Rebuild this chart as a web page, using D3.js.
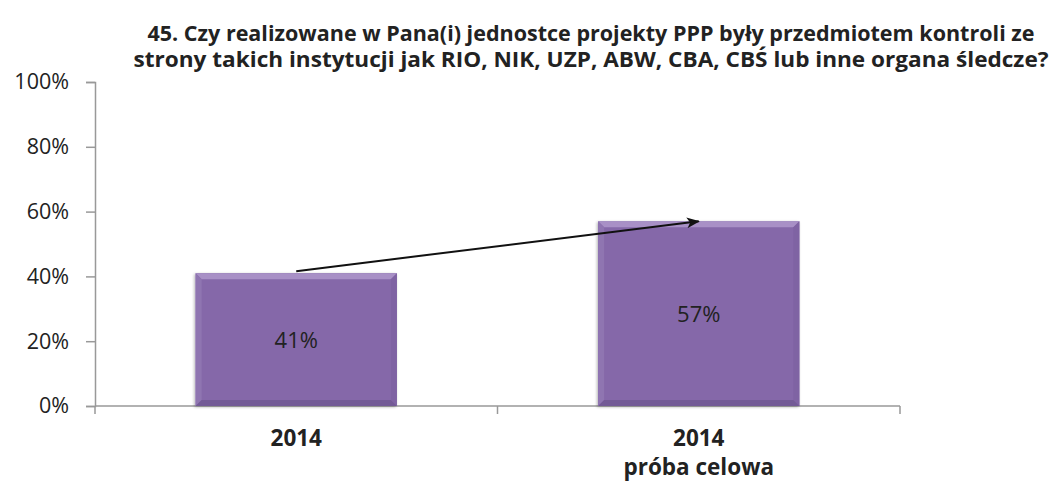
<!DOCTYPE html>
<html>
<head>
<meta charset="utf-8">
<script src="https://cdn.jsdelivr.net/npm/d3@7"></script>
<style>
body { margin: 0; background: #fff; }
text { font-family: "Open Sans", "DejaVu Sans", sans-serif; }
</style>
</head>
<body>
<div id="chart"></div>
<script>
var categories = [["2014"], ["2014", "próba celowa"]]
var values = [0.41, 0.57]
var yTicks = [0, 0.2, 0.4, 0.6, 0.8, 1]
var titleLines = [
	"45. Czy realizowane w Pana(i) jednostce projekty PPP były przedmiotem kontroli ze",
	"strony takich instytucji jak RIO,  NIK, UZP, ABW, CBA, CBŚ lub inne organa śledcze?"
]

var W = 1053, H = 482
var mLeft = 95, mRight = 900, mTop = 82, mBottom = 406

var svg = d3.select("#chart").append("svg")
	.attr("width", W).attr("height", H)

// title
svg.append("g").selectAll("text")
	.data(titleLines)
	.enter().append("text")
	.attr("x", 591)
	.attr("y", function(d, i) { return 41 + i * 26 })
	.attr("text-anchor", "middle")
	.attr("font-size", 21)
	.attr("font-weight", "bold")
	.attr("fill", "#222")
	.attr("textLength", function(d, i) { return i == 0 ? 887 : 915 })
	.attr("lengthAdjust", "spacingAndGlyphs")
	.text(function(d) { return d })

var x = d3.scaleBand().domain(d3.range(values.length)).range([mLeft, mRight]).paddingInner(0.5).paddingOuter(0.25)
var y = d3.scaleLinear().domain([0, 1]).range([mBottom, mTop])

// y axis
var yAxis = svg.append("g")
	.attr("transform", "translate(" + mLeft + ",0)")
	.call(d3.axisLeft(y).tickValues(yTicks).tickFormat(d3.format(".0%")).tickSizeOuter(0).tickSize(9).tickPadding(17))
yAxis.select(".domain").attr("stroke", "#999").attr("stroke-width", 1.5)
yAxis.selectAll(".tick line").attr("stroke", "#999").attr("stroke-width", 1.5)
yAxis.selectAll(".tick text").attr("font-size", 21.5).attr("fill", "#222").attr("font-family", "Open Sans, sans-serif")

// x axis line + ticks
var gx = svg.append("g")
gx.append("line").attr("x1", mLeft).attr("x2", mRight).attr("y1", mBottom).attr("y2", mBottom)
	.attr("stroke", "#999").attr("stroke-width", 1.5)
var bounds = [mLeft, (mLeft + mRight) / 2, mRight]
gx.selectAll(".xt").data(bounds).enter().append("line")
	.attr("x1", function(d) { return d }).attr("x2", function(d) { return d })
	.attr("y1", mBottom).attr("y2", mBottom + 8)
	.attr("stroke", "#999").attr("stroke-width", 1.5)

// category labels
var cat = svg.append("g").selectAll("g").data(categories).enter().append("g")
cat.selectAll("text").data(function(d, i) { return d.map(function(t) { return {t: t, i: i} }) })
	.enter().append("text")
	.attr("x", function(d) { return x(d.i) + x.bandwidth() / 2 })
	.attr("y", function(d, j) { return 446 + j * 29 })
	.attr("text-anchor", "middle")
	.attr("font-size", 22.5)
	.attr("font-weight", "bold")
	.attr("fill", "#222")
	.text(function(d) { return d.t })

var defs = svg.append("defs")
var shadow = defs.append("filter").attr("id", "sh").attr("x", "-10%").attr("y", "-10%").attr("width", "120%").attr("height", "120%")
shadow.append("feGaussianBlur").attr("in", "SourceAlpha").attr("stdDeviation", 1.5)
shadow.append("feOffset").attr("dx", -1).attr("dy", 1).attr("result", "b")
shadow.append("feComponentTransfer").append("feFuncA").attr("type", "linear").attr("slope", 0.3)
var m = shadow.append("feMerge")
m.append("feMergeNode")
m.append("feMergeNode").attr("in", "SourceGraphic")

var bars = svg.append("g").selectAll("g").data(values).enter().append("g")
	.attr("filter", "url(#sh)")

var bev = 6
bars.append("rect")
	.attr("x", function(d, i) { return x(i) })
	.attr("y", function(d) { return y(d) })
	.attr("width", x.bandwidth())
	.attr("height", function(d) { return mBottom - y(d) })
	.attr("fill", "#8568a9")

// top bevel (light)
bars.append("polygon")
	.attr("points", function(d, i) {
		var x0 = x(i), x1 = x(i) + x.bandwidth(), y0 = y(d)
		return [[x0, y0], [x1, y0], [x1 - bev, y0 + bev], [x0 + bev, y0 + bev]].join(" ")
	})
	.attr("fill", "#a890c6")
// left bevel
bars.append("polygon")
	.attr("points", function(d, i) {
		var x0 = x(i), y0 = y(d)
		return [[x0, y0], [x0 + bev, y0 + bev], [x0 + bev, mBottom - bev], [x0, mBottom]].join(" ")
	})
	.attr("fill", "#8f74b1")
// right bevel
bars.append("polygon")
	.attr("points", function(d, i) {
		var x1 = x(i) + x.bandwidth(), y0 = y(d)
		return [[x1, y0], [x1 - bev, y0 + bev], [x1 - bev, mBottom - bev], [x1, mBottom]].join(" ")
	})
	.attr("fill", "#7f63a3")
// bottom bevel (dark)
bars.append("polygon")
	.attr("points", function(d, i) {
		var x0 = x(i), x1 = x(i) + x.bandwidth()
		return [[x0, mBottom], [x1, mBottom], [x1 - bev, mBottom - bev], [x0 + bev, mBottom - bev]].join(" ")
	})
	.attr("fill", "#735a96")

// value labels
svg.append("g").selectAll("text").data(values).enter().append("text")
	.attr("x", function(d, i) { return x(i) + x.bandwidth() / 2 })
	.attr("y", function(d) { return (y(d) + mBottom) / 2 + 8 })
	.attr("text-anchor", "middle")
	.attr("font-size", 22)
	.attr("fill", "#222")
	.text(function(d) { return d3.format(".0%")(d) })

// arrow between bar tops
defs.append("marker").attr("id", "arr")
	.attr("viewBox", "0 0 12 10").attr("refX", 11).attr("refY", 5)
	.attr("markerWidth", 13).attr("markerHeight", 11).attr("markerUnits", "userSpaceOnUse")
	.attr("orient", "auto")
	.append("path").attr("d", "M0,0 L12,5 L0,10 L3,5 Z").attr("fill", "#111")

svg.append("line")
	.attr("x1", x(0) + x.bandwidth() / 2).attr("y1", y(values[0]) - 2)
	.attr("x2", x(1) + x.bandwidth() / 2).attr("y2", y(values[1]))
	.attr("stroke", "#111").attr("stroke-width", 2)
	.attr("marker-end", "url(#arr)")
</script>
</body>
</html>
